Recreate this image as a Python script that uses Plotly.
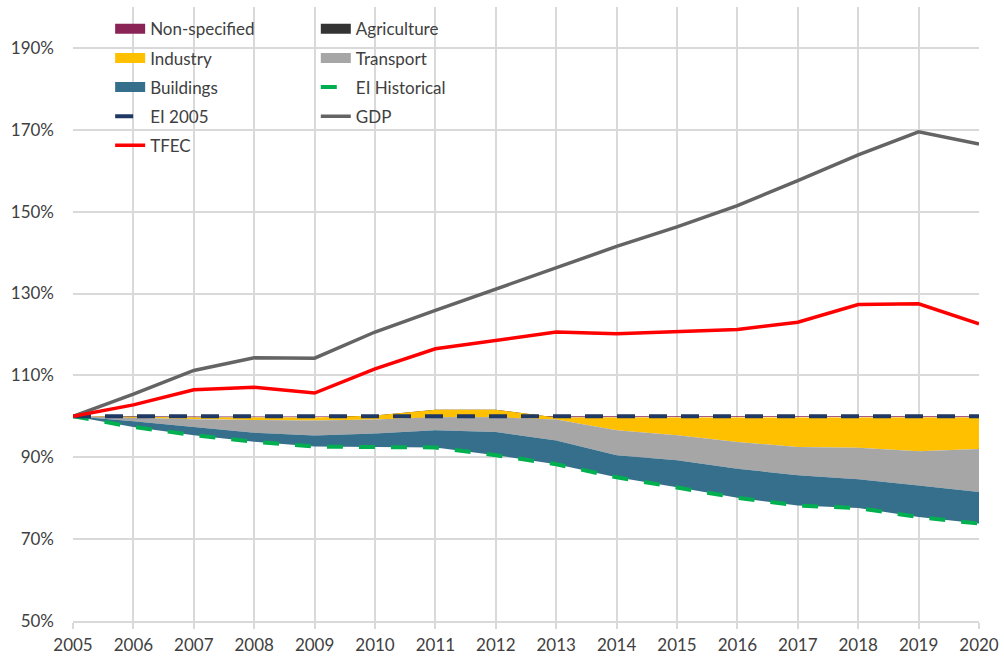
import numpy as np
import plotly.graph_objects as go

years = list(range(2005, 2021))
y_ticks = [50, 70, 90, 110, 130, 150, 170, 190]
y_tick_labels = ["50%", "70%", "90%", "110%", "130%", "150%", "170%", "190%"]

# Energy intensity decomposition (percentage points, stacked upward from EI Historical)
ei_historical = [100, 97.4, 95.4, 93.8, 92.6, 92.5, 92.4, 90.5, 88.3, 85.1, 82.7, 80.1, 78.2, 77.6, 75.4, 73.8]
buildings     = [0, 1.4, 2.0, 2.2, 2.7, 3.3, 4.2, 5.7, 5.8, 5.4, 6.6, 7.1, 7.4, 7.0, 7.7, 7.7]
transport     = [0, 0.8, 1.9, 3.1, 3.7, 3.4, 3.2, 3.6, 5.1, 6.1, 6.1, 6.5, 6.9, 7.7, 8.4, 10.5]
industry      = [0, 0.2, 0.4, 0.6, 0.7, 1.0, 1.8, 1.8, 0.5, 3.1, 4.3, 6.0, 7.2, 7.4, 8.2, 7.7]
agriculture   = [0, 0.1, 0.1, 0.1, 0.1, -0.4, -1.8, -1.8, 0.1, 0.1, 0.1, 0.1, 0.1, 0.1, 0.1, 0.1]
non_specified = [0, 0.1, 0.2, 0.2, 0.2, 0.2, 0.2, 0.2, 0.2, 0.2, 0.2, 0.2, 0.2, 0.2, 0.2, 0.2]
ei_2005       = [100] * 16
gdp           = [100, 105.4, 111.2, 114.3, 114.2, 120.6, 125.9, 131.1, 136.3, 141.5, 146.3, 151.5, 157.6, 163.9, 169.5, 166.5]
tfec          = [100, 102.8, 106.5, 107.1, 105.7, 111.6, 116.5, 118.5, 120.6, 120.2, 120.6, 121.2, 123.0, 127.3, 127.5, 122.6]

areas = [
    ("Buildings", buildings, "#366F8C"),
    ("Transport", transport, "#A6A6A6"),
    ("Industry", industry, "#FFC000"),
    ("Agriculture", agriculture, "#333333"),
    ("Non-specified", non_specified, "#8A2456"),
]

# cumulative stack boundaries
bounds = {}
bottom = np.array(ei_historical, dtype=float)
for name, vals, col in areas:
    top = bottom + np.array(vals, dtype=float)
    bounds[name] = (bottom.copy(), top.copy(), col)
    bottom = top

FONT = "Lato"
TXT = "#404040"

left_items = ["Non-specified", "Industry", "Buildings", "EI 2005", "TFEC"]


def legend_for(name):
    return "legend" if name in left_items else "legend2"


fig = go.Figure()

# legend entries (proxies for the area series)
order = ["Non-specified", "Agriculture", "Industry", "Transport", "Buildings"]
for name in order:
    col = bounds[name][2]
    fig.add_trace(go.Scatter(
        x=[None], y=[None], mode="lines", name=name,
        line=dict(color=col, width=10), legendgroup=name,
        legend=legend_for(name), hoverinfo="skip"))

# areas drawn top-of-stack first so lower series paint over negative parts
for name in order:
    lo, hi, col = bounds[name]
    fig.add_trace(go.Scatter(
        x=years + years[::-1], y=list(hi) + list(lo[::-1]),
        mode="lines", fill="toself", fillcolor=col,
        line=dict(width=0, color=col), name=name, legendgroup=name,
        showlegend=False, hoverinfo="skip"))

fig.add_trace(go.Scatter(
    x=years, y=ei_historical, mode="lines", name="EI Historical",
    line=dict(color="#00B050", width=4, dash="16px,16px"),
    legendgroup="EI Historical", legend="legend2"))
fig.add_trace(go.Scatter(
    x=years, y=ei_2005, mode="lines", name="EI 2005",
    line=dict(color="#1F3864", width=4, dash="18px,14px"),
    legendgroup="EI 2005", legend="legend"))
fig.add_trace(go.Scatter(
    x=years, y=gdp, mode="lines", name="GDP",
    line=dict(color="#646464", width=3.5),
    legendgroup="GDP", legend="legend2"))
fig.add_trace(go.Scatter(
    x=years, y=tfec, mode="lines", name="TFEC",
    line=dict(color="#FF0000", width=3.5),
    legendgroup="TFEC", legend="legend"))

leg_common = dict(
    yanchor="top", xanchor="left", y=0.993,
    bgcolor="rgba(255,255,255,0)", borderwidth=0,
    font=dict(family=FONT, size=17, color=TXT),
    traceorder="grouped", tracegroupgap=4,
)

fig.update_layout(
    width=1004, height=657,
    margin=dict(l=73, r=25, t=7, b=36, autoexpand=False),
    paper_bgcolor="white", plot_bgcolor="white",
    font=dict(family=FONT, size=17, color=TXT),
    legend=dict(x=0.041, **leg_common),
    legend2=dict(x=0.268, **leg_common),
    xaxis=dict(
        range=[2005, 2020], tickvals=years, tickformat="d",
        showgrid=True, gridcolor="#D9D9D9", gridwidth=2,
        showline=True, linecolor="#D9D9D9", linewidth=2,
        ticks="outside", ticklen=6, tickcolor="#D9D9D9", tickwidth=2,
        ticklabelstandoff=2, zeroline=False, automargin=False,
        tickfont=dict(family=FONT, size=17, color=TXT),
    ),
    yaxis=dict(
        range=[50, 200], tickvals=y_ticks, ticktext=y_tick_labels,
        showgrid=True, gridcolor="#D9D9D9", gridwidth=2,
        showline=False, zeroline=False, ticks="",
        ticklabelstandoff=18, automargin=False,
        tickfont=dict(family=FONT, size=17, color=TXT),
    ),
)

fig.write_html(
    "out.html",
    config={"displayModeBar": False},
    post_script="document.body.style.margin='0';document.body.style.overflow='hidden';",
)
